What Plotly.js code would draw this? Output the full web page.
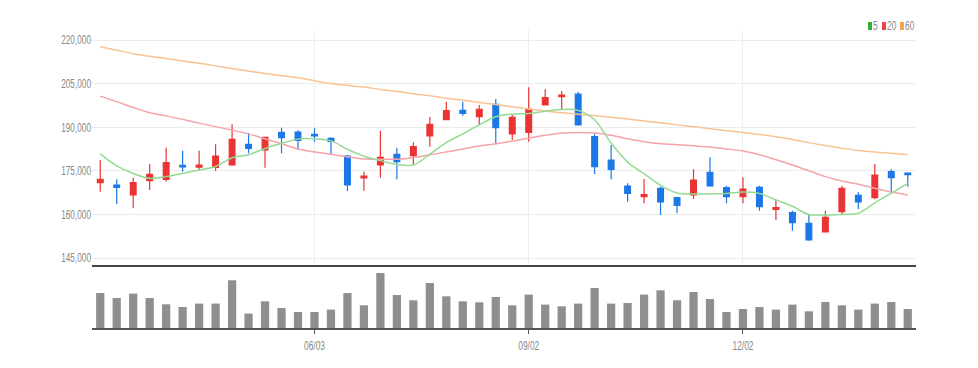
<!DOCTYPE html>
<html>
<head>
<meta charset="utf-8">
<script src="https://cdn.plot.ly/plotly-3.0.1.min.js"></script>
<style>
html,body{margin:0;padding:0;background:#fff;}
#chart{width:978px;height:368px;}
</style>
</head>
<body>
<div id="chart"></div>
<script>
var dates = ['2024-03-04','2024-03-11','2024-03-18','2024-03-25','2024-04-01','2024-04-08','2024-04-15','2024-04-22','2024-04-29','2024-05-06',
'2024-05-13','2024-05-20','2024-05-27','2024-06-03','2024-06-10','2024-06-17','2024-06-24','2024-07-01','2024-07-08','2024-07-15',
'2024-07-22','2024-07-29','2024-08-05','2024-08-12','2024-08-19','2024-08-26','2024-09-02','2024-09-09','2024-09-16','2024-09-23',
'2024-09-30','2024-10-07','2024-10-14','2024-10-21','2024-10-28','2024-11-04','2024-11-11','2024-11-18','2024-11-25','2024-12-02',
'2024-12-09','2024-12-16','2024-12-23','2024-12-30','2025-01-06','2025-01-13','2025-01-20','2025-01-27','2025-02-03','2025-02-10'];

var openP = [170900,170120,166680,171600,172080,176900,176220,176210,177000,184120,
182160,188250,188350,187560,186180,180100,172530,177000,180680,180200,
186980,192580,195820,193620,197880,187660,188250,197640,200500,201420,
186740,178720,169780,166090,168980,165750,166680,174490,169200,166090,
169330,161760,160590,156940,153950,160940,166560,165750,174700,174250];

var highP = [178700,172080,172630,177340,182950,181920,181920,184120,191000,188110,
186740,189830,188940,189620,186530,180440,174700,188800,182950,184810,
193510,198780,198780,197640,199700,194200,203730,203040,202460,202210,
187660,183880,170700,172180,169530,166090,175520,179650,169880,172770,
169880,164960,161280,159800,161280,169880,167610,177340,175620,174350];

var lowP = [167800,163580,162100,168400,171250,174690,174940,174940,176760,181020,
176070,181020,182160,185010,180440,168060,168160,172630,172080,177000,
183300,192400,193960,190760,184120,185600,185010,197500,196160,190600,
173900,172080,164380,163820,159800,160380,165300,169530,163820,163820,
161280,158080,154400,150960,153800,160140,161860,165200,167260,169530];

var closeP = [172100,169330,170910,173800,177790,176310,177000,180100,185840,182750,
186530,186390,185500,186980,185150,170120,173220,179650,178130,183300,
191000,195680,194780,196160,189830,193410,196260,200150,201080,190760,
176420,175520,167260,166780,164270,163140,171840,169780,166090,168740,
162660,162310,157150,151200,159010,168980,164270,173560,172630,173660];

var ma5 = [180800,176700,174100,172400,173000,174100,175300,176500,179500,180500,
182700,184400,185900,186000,185300,182400,180000,178500,177200,177000,
180700,184700,187700,190800,193600,194500,194700,195500,196100,195800,
192500,184500,178000,174000,170000,167400,167000,167100,167200,167700,
167200,165000,162800,160000,159800,160000,160400,164000,167300,170700];

var ma20 = [200700,198800,196800,195000,193900,192700,191400,190200,189000,187700,
186000,184300,182500,181500,180700,179800,179100,179000,179000,179500,
180500,181500,182500,183500,184300,185200,186200,187200,188000,188200,
188000,187200,186000,185000,184300,184000,183600,183200,182500,181800,
180500,178800,177000,175000,173000,171500,170400,169000,167700,166700];

var ma60 = [217700,216500,215300,214400,213600,212800,212000,211100,210200,209300,
208500,207700,207000,206000,205000,204400,203800,203000,202300,201500,
200800,200000,199300,198500,197800,197000,196300,195600,195000,194500,
194000,193400,192800,192100,191500,190800,190200,189500,188800,188200,
187500,186700,185800,184700,183700,182800,182000,181500,181000,180500];

var volume = [350000,300000,344000,300000,237000,210000,244000,244000,477000,144000,
267000,200000,160000,160000,184000,350000,227000,550000,330000,277000,
450000,317000,267000,257000,310000,227000,334000,234000,217000,244000,
400000,244000,250000,334000,377000,277000,360000,290000,160000,190000,
210000,184000,234000,167000,260000,227000,184000,244000,260000,190000];

var tickDates = ['2024-06-03','2024-09-02','2024-12-02'];
var tickLabels = ['06/03','09/02','12/02'];
var priceTicks = [145000,160000,175000,190000,205000,220000];
var priceTickText = ['145,000','160,000','175,000','190,000','205,000','220,000'];
var legendNames = ['5','20','60'];

var RED = '#ea3434', BLUE = '#1b78e6';
var FONT = 'Liberation Sans, Arial, sans-serif';

var traces = [
  {type:'bar', x:dates, y:volume, xaxis:'x', yaxis:'y', width:0.5,
   marker:{color:'#8f8f8f', line:{width:0}}, hoverinfo:'skip', showlegend:false},
  {type:'scatter', mode:'lines', x:dates, y:ma60, xaxis:'x2', yaxis:'y2',
   line:{color:'#f9c394', width:1.5, shape:'spline'}, hoverinfo:'skip', showlegend:false},
  {type:'scatter', mode:'lines', x:dates, y:ma20, xaxis:'x2', yaxis:'y2',
   line:{color:'#f5a3a8', width:1.5, shape:'spline'}, hoverinfo:'skip', showlegend:false},
  {type:'scatter', mode:'lines', x:dates, y:ma5, xaxis:'x2', yaxis:'y2',
   line:{color:'#94da94', width:1.5, shape:'spline'}, hoverinfo:'skip', showlegend:false},
  {type:'candlestick', x:dates, open:openP, high:highP, low:lowP, close:closeP,
   xaxis:'x2', yaxis:'y2', whiskerwidth:0,
   increasing:{line:{color:RED, width:1.2}, fillcolor:RED},
   decreasing:{line:{color:BLUE, width:1.2}, fillcolor:BLUE},
   hoverinfo:'skip', showlegend:false}
];

function px2x(p){ return (p-92)/824; }
function px2y(p){ return (328-p)/298; }

var legColors = ['#2cb52c','#f0424a','#f5a24c'];
var legSqX = [868, 882, 900];
var legTxtX = [875, 891.5, 909.5];
var shapes = [], annotations = [];
for (var i=0;i<3;i++){
  shapes.push({type:'rect', xref:'paper', yref:'paper',
    x0:px2x(legSqX[i]), x1:px2x(legSqX[i]+4), y0:px2y(30), y1:px2y(22),
    fillcolor:legColors[i], line:{width:0}});
  annotations.push({xref:'paper', yref:'paper', x:px2x(legTxtX[i]), y:px2y(26),
    xanchor:'center', yanchor:'middle', text:legendNames[i], showarrow:false,
    font:{family:FONT, size:12, color:'#8a8a8a'}});
}

var layout = {
  width:978, height:368,
  margin:{l:92, r:62, t:30, b:40, pad:0},
  paper_bgcolor:'#ffffff', plot_bgcolor:'#ffffff',
  showlegend:false, boxgap:0.5, bargap:0.5, dragmode:false,
  font:{family:FONT, size:12, color:'#888'},
  xaxis:{type:'category', anchor:'y', domain:[0,1], range:[-0.5,49.5],
    tickmode:'array', tickvals:tickDates, ticktext:tickLabels,
    showgrid:false, zeroline:false, showline:true, linecolor:'#555', linewidth:2,
    ticks:'outside', ticklen:4, tickcolor:'#555', tickwidth:1,
    tickfont:{family:FONT, size:13.5, color:'#888'}},
  xaxis2:{type:'category', anchor:'y2', matches:'x', range:[-0.5,49.5],
    tickmode:'array', tickvals:tickDates, ticktext:tickLabels,
    showticklabels:false, ticks:'', showgrid:true, gridcolor:'#ededed', gridwidth:1,
    zeroline:false, showline:true, linecolor:'#444', linewidth:2,
    rangeslider:{visible:false}},
  yaxis:{domain:[0, px2y(270)], range:[0,580000], showgrid:false, zeroline:false,
    showticklabels:false, ticks:'', showline:false},
  yaxis2:{domain:[px2y(265),1], range:[142600,223440],
    tickmode:'array', tickvals:priceTicks, ticktext:priceTickText,
    showgrid:true, gridcolor:'#ececec', gridwidth:1, zeroline:false, showline:false,
    ticks:'', tickfont:{family:FONT, size:12.5, color:'#888'}},
  shapes:shapes, annotations:annotations
};

// narrow the glyphs horizontally about each text's own anchor point
function condense(sel, k){
  document.querySelectorAll(sel).forEach(function(t){
    var ax = parseFloat(t.getAttribute('x')) || 0;
    var tr = t.getAttribute('transform') || '';
    t.setAttribute('transform', tr + ' translate(' + ax + ',0) scale(' + k + ',1) translate(' + (-ax) + ',0)');
  });
}

Plotly.newPlot('chart', traces, layout, {displayModeBar:false, staticPlot:true}).then(function(){
  condense('#chart .y2tick text', 0.66);
  condense('#chart .xtick text', 0.62);
  condense('#chart .annotation-text', 0.7);
});
</script>
</body>
</html>
